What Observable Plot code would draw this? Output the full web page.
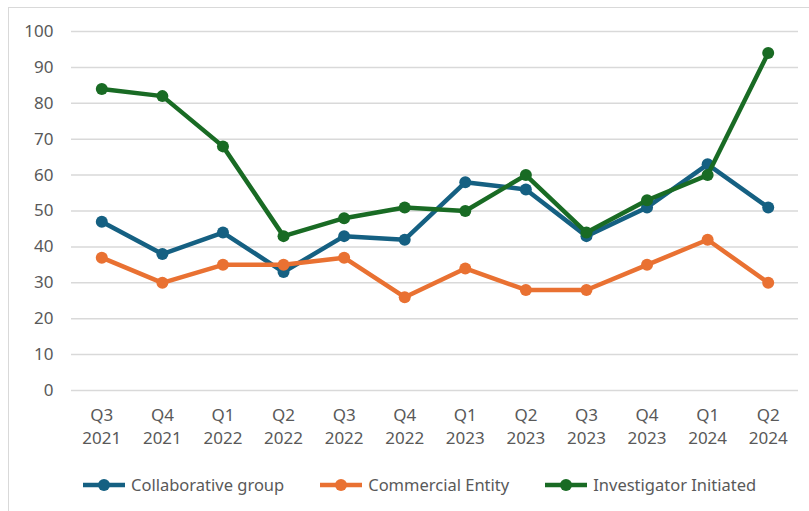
<!DOCTYPE html>
<html>
<head>
<meta charset="utf-8">
<script src="https://cdn.jsdelivr.net/npm/d3@7"></script>
<script src="https://cdn.jsdelivr.net/npm/@observablehq/plot@0.6"></script>
<style>
  html, body { margin: 0; padding: 0; background: #fff; }
  body { width: 809px; height: 511px; position: relative; overflow: hidden; font-family: "Noto Sans", sans-serif; }
  #frame { position: absolute; left: 8px; top: 7px; width: 820px; height: 530px; border: 1px solid #d9d9d9; box-sizing: border-box; }
  #chart { position: absolute; left: 0; top: 0; }
  #legend { position: absolute; left: 83px; top: 473px; display: flex; align-items: center; gap: 36px; font-size: 16.5px; color: #595959; }
  .item { display: flex; align-items: center; gap: 6px; }
</style>
</head>
<body>
<div id="frame"></div>
<div id="chart"></div>
<div id="legend"></div>
<script>
const quarters = ["Q3\n2021","Q4\n2021","Q1\n2022","Q2\n2022","Q3\n2022","Q4\n2022","Q1\n2023","Q2\n2023","Q3\n2023","Q4\n2023","Q1\n2024","Q2\n2024"];
const seriesNames = ["Collaborative group","Commercial Entity","Investigator Initiated"];
const collaborative = [47,38,44,33,43,42,58,56,43,51,63,51];
const commercial = [37,30,35,35,37,26,34,28,28,35,42,30];
const investigator = [84,82,68,43,48,51,50,60,44,53,60,94];
const yTicks = [0,10,20,30,40,50,60,70,80,90,100];
const colors = ["#156082","#E97132","#196B24"];

const seriesValues = [collaborative, commercial, investigator];
const data = [];
seriesValues.forEach((vals, s) => vals.forEach((v, i) => data.push({series: seriesNames[s], quarter: quarters[i], value: v})));

const marks = [
  Plot.gridY(yTicks, {stroke: "#d9d9d9", strokeOpacity: 1, strokeWidth: 1.5}),
  Plot.axisY(yTicks, {tickSize: 0, tickPadding: 18, fontSize: 17, fill: "#595959", tickFormat: d => d}),
  Plot.axisX({tickSize: 0, tickPadding: 14, fontSize: 17, fill: "#595959", lineHeight: 1.35})
];
seriesNames.forEach((name, s) => {
  const d = data.filter(r => r.series === name);
  marks.push(Plot.line(d, {x: "quarter", y: "value", stroke: colors[s], strokeWidth: 4.5}));
  marks.push(Plot.dot(d, {x: "quarter", y: "value", fill: colors[s], r: 6}));
});

const chart = Plot.plot({
  width: 809,
  height: 455,
  marginTop: 31,
  marginBottom: 65,
  marginLeft: 71,
  marginRight: 11,
  style: {background: "transparent", fontFamily: "Noto Sans, sans-serif", color: "#595959"},
  x: {type: "point", domain: quarters, padding: 0.5, round: false, label: null},
  y: {domain: [0, 100], label: null},
  marks
});
document.getElementById("chart").appendChild(chart);

const legend = document.getElementById("legend");
seriesNames.forEach((name, s) => {
  const item = document.createElement("div");
  item.className = "item";
  item.innerHTML = `<svg width="42" height="14"><line x1="0" y1="7" x2="42" y2="7" stroke="${colors[s]}" stroke-width="4.5"/><circle cx="21" cy="7" r="6" fill="${colors[s]}"/></svg><span>${name}</span>`;
  legend.appendChild(item);
});
</script>
</body>
</html>
